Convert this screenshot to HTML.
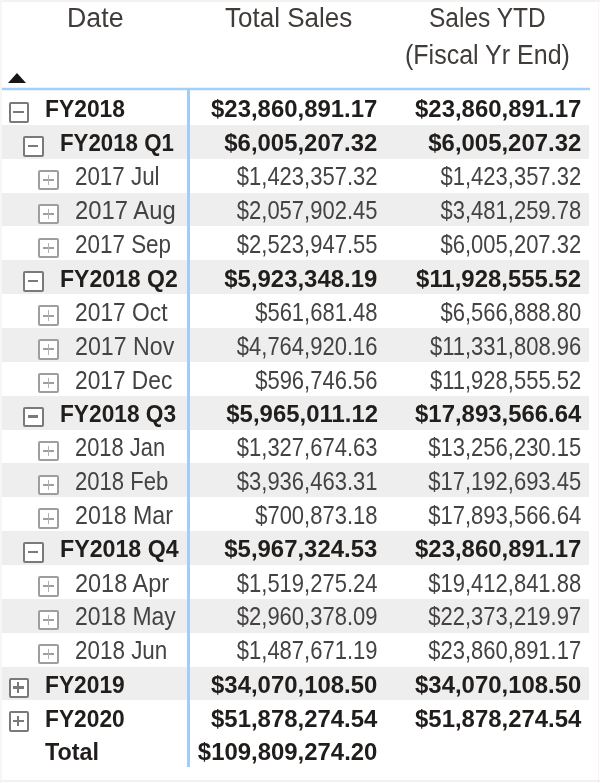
<!DOCTYPE html>
<html><head><meta charset="utf-8">
<style>
html,body{margin:0;padding:0;}
body{width:600px;height:783px;position:relative;overflow:hidden;background:#fff;font-family:"Liberation Sans",sans-serif;}
.a{position:absolute;}
.band{position:absolute;left:1.5px;width:587px;background:#eeeeee;}
.hd{position:absolute;white-space:nowrap;font-size:25px;color:#3f3c3a;line-height:40px;height:40px;}
.t{position:absolute;white-space:nowrap;line-height:40px;height:40px;}
.b{font-weight:bold;color:#201d1b;font-size:23.5px;}
.r{color:#454342;font-size:22px;}
.box{position:absolute;box-sizing:border-box;background:#fff;border-radius:2px;}
.box i{position:absolute;}
</style></head><body><div style="position:absolute;left:0;top:0;width:600px;height:783px;filter:blur(0.5px);">

<div class="a" style="left:0;top:0;width:600px;height:1.5px;background:#f4f2f0;"></div>
<div class="a" style="left:0;top:0;width:1.5px;height:783px;background:#f7f6f5;"></div>
<div class="a" style="left:597.5px;top:0;width:1.5px;height:783px;background:#f7f6f5;"></div>
<div class="a" style="left:0;top:780px;width:600px;height:2px;background:#f5f1ef;"></div>
<div class="hd" style="left:66.5px;top:-1.86px;font-size:25px;transform:scale(1.07,1.1);transform-origin:0 28.66px;">Date</div>
<div class="hd" style="left:224.5px;top:-1.86px;font-size:25px;transform:scale(1.04,1.1);transform-origin:0 28.66px;">Total Sales</div>
<div class="hd" style="left:429px;top:-1.86px;font-size:25px;transform:scale(0.98,1.1);transform-origin:0 28.66px;">Sales YTD</div>
<div class="hd" style="left:405px;top:34.64px;font-size:25px;transform:scale(1.0,1.1);transform-origin:0 28.66px;">(Fiscal Yr End)</div>
<div class="a" style="left:8.3px;top:73px;width:0;height:0;border-left:9.6px solid transparent;border-right:9.6px solid transparent;border-bottom:10.3px solid #161616;"></div>
<div class="band" style="top:124.95px;height:33.85px;"></div>
<div class="band" style="top:192.65px;height:33.85px;"></div>
<div class="band" style="top:260.35px;height:33.85px;"></div>
<div class="band" style="top:328.05px;height:33.85px;"></div>
<div class="band" style="top:395.75px;height:33.85px;"></div>
<div class="band" style="top:463.45px;height:33.85px;"></div>
<div class="band" style="top:531.15px;height:33.85px;"></div>
<div class="band" style="top:598.85px;height:33.85px;"></div>
<div class="band" style="top:666.55px;height:33.85px;"></div>
<div class="a" style="left:1.5px;top:88px;width:588.5px;height:2px;background:#a6d1f7;"></div>
<div class="a" style="left:1.5px;top:87px;width:588.5px;height:1px;background:#e6f2fd;"></div>
<div class="a" style="left:1.5px;top:90px;width:588.5px;height:1px;background:#e6f2fd;"></div>
<div class="a" style="left:187px;top:89px;width:3px;height:678px;background:#a2cdf7;"></div>
<div class="box" style="left:8.5px;top:102.15px;width:20.5px;height:20.5px;border:2.5px solid #7c7a79;"><i style="left:2.50px;top:6.50px;width:10.5px;height:2.5px;background:#7c7a79;"></i></div>
<div class="t b" style="left:45.3px;top:89.31px;transform:scale(0.9725,1.0);transform-origin:0 28.14px;">FY2018</div>
<div class="t b" style="right:222.5px;top:89.31px;transform:scale(1.018,1.0);transform-origin:100% 28.14px;">$23,860,891.17</div>
<div class="t b" style="right:19px;top:89.31px;transform:scale(1.018,1.0);transform-origin:100% 28.14px;">$23,860,891.17</div>
<div class="box" style="left:23px;top:136.00px;width:20.5px;height:20.5px;border:2.5px solid #7c7a79;"><i style="left:2.50px;top:6.50px;width:10.5px;height:2.5px;background:#7c7a79;"></i></div>
<div class="t b" style="left:59.5px;top:123.16px;transform:scale(0.9474,1.0);transform-origin:0 28.14px;">FY2018 Q1</div>
<div class="t b" style="right:222.5px;top:123.16px;transform:scale(1.018,1.0);transform-origin:100% 28.14px;">$6,005,207.32</div>
<div class="t b" style="right:19px;top:123.16px;transform:scale(1.018,1.0);transform-origin:100% 28.14px;">$6,005,207.32</div>
<div class="box" style="left:38px;top:169.85px;width:20.5px;height:20.5px;border:2px solid #a09e9d;"><i style="left:3.00px;top:7.25px;width:10.5px;height:2px;background:#a09e9d;"></i><i style="left:7.65px;top:3.00px;width:1.2px;height:10.5px;background:#b3b1b0;"></i></div>
<div class="t r" style="left:74.5px;top:158.43px;transform:scale(1.0163,1.145);transform-origin:0 27.62px;">2017 Jul</div>
<div class="t r" style="right:222.5px;top:158.43px;transform:scale(1.0,1.145);transform-origin:100% 27.62px;">$1,423,357.32</div>
<div class="t r" style="right:18.799999999999955px;top:158.43px;transform:scale(1.0,1.145);transform-origin:100% 27.62px;">$1,423,357.32</div>
<div class="box" style="left:38px;top:203.70px;width:20.5px;height:20.5px;border:2px solid #a09e9d;"><i style="left:3.00px;top:7.25px;width:10.5px;height:2px;background:#a09e9d;"></i><i style="left:7.65px;top:3.00px;width:1.2px;height:10.5px;background:#b3b1b0;"></i></div>
<div class="t r" style="left:74.5px;top:192.28px;transform:scale(1.0821,1.145);transform-origin:0 27.62px;">2017 Aug</div>
<div class="t r" style="right:222.5px;top:192.28px;transform:scale(1.0,1.145);transform-origin:100% 27.62px;">$2,057,902.45</div>
<div class="t r" style="right:18.799999999999955px;top:192.28px;transform:scale(1.0,1.145);transform-origin:100% 27.62px;">$3,481,259.78</div>
<div class="box" style="left:38px;top:237.55px;width:20.5px;height:20.5px;border:2px solid #a09e9d;"><i style="left:3.00px;top:7.25px;width:10.5px;height:2px;background:#a09e9d;"></i><i style="left:7.65px;top:3.00px;width:1.2px;height:10.5px;background:#b3b1b0;"></i></div>
<div class="t r" style="left:74.5px;top:226.13px;transform:scale(1.02,1.145);transform-origin:0 27.62px;">2017 Sep</div>
<div class="t r" style="right:222.5px;top:226.13px;transform:scale(1.0,1.145);transform-origin:100% 27.62px;">$2,523,947.55</div>
<div class="t r" style="right:18.799999999999955px;top:226.13px;transform:scale(1.0,1.145);transform-origin:100% 27.62px;">$6,005,207.32</div>
<div class="box" style="left:23px;top:271.40px;width:20.5px;height:20.5px;border:2.5px solid #7c7a79;"><i style="left:2.50px;top:6.50px;width:10.5px;height:2.5px;background:#7c7a79;"></i></div>
<div class="t b" style="left:59.5px;top:258.56px;transform:scale(0.9794,1.0);transform-origin:0 28.14px;">FY2018 Q2</div>
<div class="t b" style="right:222.5px;top:258.56px;transform:scale(1.018,1.0);transform-origin:100% 28.14px;">$5,923,348.19</div>
<div class="t b" style="right:19px;top:258.56px;transform:scale(1.018,1.0);transform-origin:100% 28.14px;">$11,928,555.52</div>
<div class="box" style="left:38px;top:305.25px;width:20.5px;height:20.5px;border:2px solid #a09e9d;"><i style="left:3.00px;top:7.25px;width:10.5px;height:2px;background:#a09e9d;"></i><i style="left:7.65px;top:3.00px;width:1.2px;height:10.5px;background:#b3b1b0;"></i></div>
<div class="t r" style="left:74.5px;top:293.83px;transform:scale(1.037,1.145);transform-origin:0 27.62px;">2017 Oct</div>
<div class="t r" style="right:222.5px;top:293.83px;transform:scale(1.0,1.145);transform-origin:100% 27.62px;">$561,681.48</div>
<div class="t r" style="right:18.799999999999955px;top:293.83px;transform:scale(1.0,1.145);transform-origin:100% 27.62px;">$6,566,888.80</div>
<div class="box" style="left:38px;top:339.10px;width:20.5px;height:20.5px;border:2px solid #a09e9d;"><i style="left:3.00px;top:7.25px;width:10.5px;height:2px;background:#a09e9d;"></i><i style="left:7.65px;top:3.00px;width:1.2px;height:10.5px;background:#b3b1b0;"></i></div>
<div class="t r" style="left:74.5px;top:327.68px;transform:scale(1.0544,1.145);transform-origin:0 27.62px;">2017 Nov</div>
<div class="t r" style="right:222.5px;top:327.68px;transform:scale(1.0,1.145);transform-origin:100% 27.62px;">$4,764,920.16</div>
<div class="t r" style="right:18.799999999999955px;top:327.68px;transform:scale(1.0,1.145);transform-origin:100% 27.62px;">$11,331,808.96</div>
<div class="box" style="left:38px;top:372.95px;width:20.5px;height:20.5px;border:2px solid #a09e9d;"><i style="left:3.00px;top:7.25px;width:10.5px;height:2px;background:#a09e9d;"></i><i style="left:7.65px;top:3.00px;width:1.2px;height:10.5px;background:#b3b1b0;"></i></div>
<div class="t r" style="left:74.5px;top:361.53px;transform:scale(1.033,1.145);transform-origin:0 27.62px;">2017 Dec</div>
<div class="t r" style="right:222.5px;top:361.53px;transform:scale(1.0,1.145);transform-origin:100% 27.62px;">$596,746.56</div>
<div class="t r" style="right:18.799999999999955px;top:361.53px;transform:scale(1.0,1.145);transform-origin:100% 27.62px;">$11,928,555.52</div>
<div class="box" style="left:23px;top:406.80px;width:20.5px;height:20.5px;border:2.5px solid #7c7a79;"><i style="left:2.50px;top:6.50px;width:10.5px;height:2.5px;background:#7c7a79;"></i></div>
<div class="t b" style="left:59.5px;top:393.96px;transform:scale(0.9659,1.0);transform-origin:0 28.14px;">FY2018 Q3</div>
<div class="t b" style="right:222.5px;top:393.96px;transform:scale(1.018,1.0);transform-origin:100% 28.14px;">$5,965,011.12</div>
<div class="t b" style="right:19px;top:393.96px;transform:scale(1.018,1.0);transform-origin:100% 28.14px;">$17,893,566.64</div>
<div class="box" style="left:38px;top:440.65px;width:20.5px;height:20.5px;border:2px solid #a09e9d;"><i style="left:3.00px;top:7.25px;width:10.5px;height:2px;background:#a09e9d;"></i><i style="left:7.65px;top:3.00px;width:1.2px;height:10.5px;background:#b3b1b0;"></i></div>
<div class="t r" style="left:74.5px;top:429.23px;transform:scale(0.9951,1.145);transform-origin:0 27.62px;">2018 Jan</div>
<div class="t r" style="right:222.5px;top:429.23px;transform:scale(1.0,1.145);transform-origin:100% 27.62px;">$1,327,674.63</div>
<div class="t r" style="right:18.799999999999955px;top:429.23px;transform:scale(1.0,1.145);transform-origin:100% 27.62px;">$13,256,230.15</div>
<div class="box" style="left:38px;top:474.50px;width:20.5px;height:20.5px;border:2px solid #a09e9d;"><i style="left:3.00px;top:7.25px;width:10.5px;height:2px;background:#a09e9d;"></i><i style="left:7.65px;top:3.00px;width:1.2px;height:10.5px;background:#b3b1b0;"></i></div>
<div class="t r" style="left:74.5px;top:463.08px;transform:scale(1.0035,1.145);transform-origin:0 27.62px;">2018 Feb</div>
<div class="t r" style="right:222.5px;top:463.08px;transform:scale(1.0,1.145);transform-origin:100% 27.62px;">$3,936,463.31</div>
<div class="t r" style="right:18.799999999999955px;top:463.08px;transform:scale(1.0,1.145);transform-origin:100% 27.62px;">$17,192,693.45</div>
<div class="box" style="left:38px;top:508.35px;width:20.5px;height:20.5px;border:2px solid #a09e9d;"><i style="left:3.00px;top:7.25px;width:10.5px;height:2px;background:#a09e9d;"></i><i style="left:7.65px;top:3.00px;width:1.2px;height:10.5px;background:#b3b1b0;"></i></div>
<div class="t r" style="left:74.5px;top:496.93px;transform:scale(1.054,1.145);transform-origin:0 27.62px;">2018 Mar</div>
<div class="t r" style="right:222.5px;top:496.93px;transform:scale(1.0,1.145);transform-origin:100% 27.62px;">$700,873.18</div>
<div class="t r" style="right:18.799999999999955px;top:496.93px;transform:scale(1.0,1.145);transform-origin:100% 27.62px;">$17,893,566.64</div>
<div class="box" style="left:23px;top:542.20px;width:20.5px;height:20.5px;border:2.5px solid #7c7a79;"><i style="left:2.50px;top:6.50px;width:10.5px;height:2.5px;background:#7c7a79;"></i></div>
<div class="t b" style="left:59.5px;top:529.36px;transform:scale(0.9869,1.0);transform-origin:0 28.14px;">FY2018 Q4</div>
<div class="t b" style="right:222.5px;top:529.36px;transform:scale(1.018,1.0);transform-origin:100% 28.14px;">$5,967,324.53</div>
<div class="t b" style="right:19px;top:529.36px;transform:scale(1.018,1.0);transform-origin:100% 28.14px;">$23,860,891.17</div>
<div class="box" style="left:38px;top:576.05px;width:20.5px;height:20.5px;border:2px solid #a09e9d;"><i style="left:3.00px;top:7.25px;width:10.5px;height:2px;background:#a09e9d;"></i><i style="left:7.65px;top:3.00px;width:1.2px;height:10.5px;background:#b3b1b0;"></i></div>
<div class="t r" style="left:74.5px;top:564.63px;transform:scale(1.0675,1.145);transform-origin:0 27.62px;">2018 Apr</div>
<div class="t r" style="right:222.5px;top:564.63px;transform:scale(1.0,1.145);transform-origin:100% 27.62px;">$1,519,275.24</div>
<div class="t r" style="right:18.799999999999955px;top:564.63px;transform:scale(1.0,1.145);transform-origin:100% 27.62px;">$19,412,841.88</div>
<div class="box" style="left:38px;top:609.90px;width:20.5px;height:20.5px;border:2px solid #a09e9d;"><i style="left:3.00px;top:7.25px;width:10.5px;height:2px;background:#a09e9d;"></i><i style="left:7.65px;top:3.00px;width:1.2px;height:10.5px;background:#b3b1b0;"></i></div>
<div class="t r" style="left:74.5px;top:598.48px;transform:scale(1.0431,1.145);transform-origin:0 27.62px;">2018 May</div>
<div class="t r" style="right:222.5px;top:598.48px;transform:scale(1.0,1.145);transform-origin:100% 27.62px;">$2,960,378.09</div>
<div class="t r" style="right:18.799999999999955px;top:598.48px;transform:scale(1.0,1.145);transform-origin:100% 27.62px;">$22,373,219.97</div>
<div class="box" style="left:38px;top:643.75px;width:20.5px;height:20.5px;border:2px solid #a09e9d;"><i style="left:3.00px;top:7.25px;width:10.5px;height:2px;background:#a09e9d;"></i><i style="left:7.65px;top:3.00px;width:1.2px;height:10.5px;background:#b3b1b0;"></i></div>
<div class="t r" style="left:74.5px;top:632.33px;transform:scale(1.02,1.145);transform-origin:0 27.62px;">2018 Jun</div>
<div class="t r" style="right:222.5px;top:632.33px;transform:scale(1.0,1.145);transform-origin:100% 27.62px;">$1,487,671.19</div>
<div class="t r" style="right:18.799999999999955px;top:632.33px;transform:scale(1.0,1.145);transform-origin:100% 27.62px;">$23,860,891.17</div>
<div class="box" style="left:8.5px;top:677.60px;width:20.5px;height:20.5px;border:2.5px solid #7c7a79;"><i style="left:2.50px;top:6.50px;width:10.5px;height:2.5px;background:#7c7a79;"></i><i style="left:6.65px;top:2.50px;width:2.2px;height:10.5px;background:#7c7a79;"></i></div>
<div class="t b" style="left:45.3px;top:664.76px;transform:scale(0.9686,1.0);transform-origin:0 28.14px;">FY2019</div>
<div class="t b" style="right:222.5px;top:664.76px;transform:scale(1.018,1.0);transform-origin:100% 28.14px;">$34,070,108.50</div>
<div class="t b" style="right:19px;top:664.76px;transform:scale(1.018,1.0);transform-origin:100% 28.14px;">$34,070,108.50</div>
<div class="box" style="left:8.5px;top:711.45px;width:20.5px;height:20.5px;border:2.5px solid #7c7a79;"><i style="left:2.50px;top:6.50px;width:10.5px;height:2.5px;background:#7c7a79;"></i><i style="left:6.65px;top:2.50px;width:2.2px;height:10.5px;background:#7c7a79;"></i></div>
<div class="t b" style="left:45.3px;top:698.61px;transform:scale(0.9686,1.0);transform-origin:0 28.14px;">FY2020</div>
<div class="t b" style="right:222.5px;top:698.61px;transform:scale(1.018,1.0);transform-origin:100% 28.14px;">$51,878,274.54</div>
<div class="t b" style="right:19px;top:698.61px;transform:scale(1.018,1.0);transform-origin:100% 28.14px;">$51,878,274.54</div>
<div class="t b" style="left:45.3px;top:732.46px;transform:scale(0.9926,1.0);transform-origin:0 28.14px;">Total</div>
<div class="t b" style="right:222.5px;top:732.46px;transform:scale(1.018,1.0);transform-origin:100% 28.14px;">$109,809,274.20</div>
</div></body></html>
